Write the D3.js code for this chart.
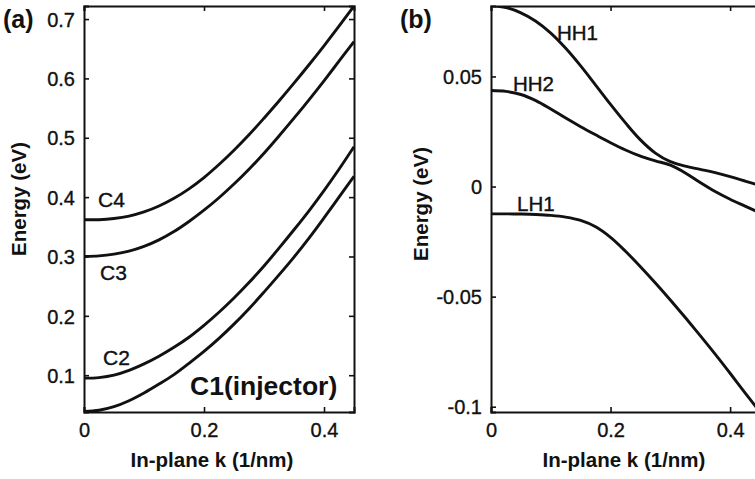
<!DOCTYPE html>
<html><head><meta charset="utf-8">
<script src="https://cdn.jsdelivr.net/npm/d3@7"></script>
<style>body{margin:0;background:#fff}svg{display:block}text{font-family:"Liberation Sans",Arial,sans-serif;fill:#111}</style>
</head><body>
<svg id="c" width="755" height="479"></svg>
<script>
const k = [0,0.025,0.05,0.075,0.1,0.125,0.15,0.175,0.2,0.225,0.25,0.275,0.3,0.325,0.35,0.375,0.4,0.425,0.45];
// Panel (a): conduction subbands (eV)
const C1 = [0.039,0.041,0.047,0.057,0.070,0.085,0.101,0.120,0.140,0.162,0.186,0.212,0.240,0.269,0.299,0.331,0.365,0.400,0.435];
const C2 = [0.095,0.096,0.100,0.108,0.119,0.132,0.147,0.164,0.184,0.206,0.230,0.256,0.284,0.314,0.345,0.377,0.411,0.447,0.485];
const C3 = [0.300,0.301,0.304,0.309,0.317,0.328,0.342,0.359,0.378,0.399,0.422,0.447,0.474,0.503,0.533,0.564,0.596,0.629,0.662];
const C4 = [0.362,0.362,0.364,0.368,0.375,0.385,0.398,0.414,0.433,0.455,0.479,0.505,0.533,0.562,0.592,0.623,0.655,0.688,0.722];
// Panel (b): valence subbands (eV)
const HH1 = [0.0822,0.0813,0.0789,0.0751,0.0697,0.0628,0.0548,0.0461,0.0373,0.0289,0.0212,0.0152,0.0113,0.0093,0.0078,0.0063,0.0045,0.0025,0.0004];
const HH2 = [0.0436,0.0432,0.0418,0.0390,0.0352,0.0311,0.0272,0.0235,0.0199,0.0166,0.0138,0.0117,0.0097,0.0062,0.0018,-0.0023,-0.0058,-0.0089,-0.0120];
const LH1 = [-0.0124,-0.0124,-0.0125,-0.0127,-0.0131,-0.0139,-0.0154,-0.0183,-0.0231,-0.0294,-0.0364,-0.0438,-0.0515,-0.0595,-0.0677,-0.0761,-0.0848,-0.0937,-0.1024];

const xTicks = [0,0.2,0.4];
const yTicksA = [0.1,0.2,0.3,0.4,0.5,0.6,0.7];
const yTicksB = [-0.1,-0.05,0,0.05];
const xLabel = "In-plane k (1/nm)";
const yLabel = "Energy (eV)";

const svg = d3.select("#c");

function panel(opt){
  const x = d3.scaleLinear().domain([0,0.45]).range([opt.x0, opt.x1]);
  const y = d3.scaleLinear().domain(opt.yd).range([opt.y1, opt.y0]);
  const g = svg.append("g");
  const id = "clip"+opt.name;
  svg.append("clipPath").attr("id",id).append("rect")
    .attr("x",opt.x0).attr("y",opt.y0).attr("width",opt.x1-opt.x0).attr("height",opt.y1-opt.y0);
  const line = d3.line().x((d,i)=>x(k[i])).y(d=>y(d)).curve(d3.curveCatmullRom.alpha(0.5));
  opt.series.forEach(s=>{
    g.append("path").datum(s).attr("d",line).attr("fill","none")
      .attr("stroke","#111").attr("stroke-width",2.9).attr("stroke-linejoin","round").attr("clip-path",`url(#${id})`);
  });
  const ax = [
    [d3.axisBottom(x).tickValues(xTicks).tickSize(-5).tickFormat(d3.format("")), `translate(0,${opt.y1})`],
    [d3.axisTop(x).tickValues(xTicks).tickSize(-5).tickFormat(""), `translate(0,${opt.y0})`],
    [d3.axisLeft(y).tickValues(opt.yt).tickSize(-5).tickFormat(opt.fmt), `translate(${opt.x0},0)`],
    [d3.axisRight(y).tickValues(opt.yt).tickSize(-5).tickFormat(""), `translate(${opt.x1},0)`]
  ];
  ax.forEach(([a,t],j)=>{
    const gg = g.append("g").attr("transform",t).call(a);
    gg.select(".domain").attr("stroke","#111").attr("stroke-width",2);
    gg.selectAll(".tick line").attr("stroke","#111").attr("stroke-width",1.6);
    gg.selectAll("text").attr("font-size",20).attr("fill","#111").attr("stroke","#111").attr("stroke-width",0.35)
      .style("font-family",'"Liberation Sans",Arial,sans-serif');
    if(j===0) gg.selectAll("text").attr("dy",null).attr("y",25);
    if(j===2) gg.selectAll("text").attr("x",-9).attr("dy","0.36em");
  });
  g.append("text").attr("x",opt.xlx).attr("y",467)
    .attr("text-anchor","middle").attr("font-size",20.5).attr("font-weight","bold").text(xLabel);
  g.append("text").attr("transform",`translate(${opt.ylx},${opt.yly}) rotate(-90)`)
    .attr("text-anchor","middle").attr("font-size",20.5).attr("font-weight","bold").text(yLabel);
  g.append("text").attr("x",opt.tx).attr("y",28).attr("font-size",25).attr("font-weight","bold").text(`(${opt.name})`);
  opt.labels.forEach(l=>{
    const t = g.append("text").attr("x",l[1]).attr("y",l[2]).attr("font-size",l[3]).attr("font-weight",l[4]||"normal").text(l[0]);
    if(!l[4]) t.attr("stroke","#111").attr("stroke-width",0.4);
  });
}

panel({name:"a", x0:84, x1:354, y0:6, y1:412, yd:[0.038,0.722], yt:yTicksA,
  fmt:d3.format(".1f"), series:[C1,C2,C3,C4], ylx:26, yly:199, tx:3, xlx:212,
  labels:[["C4",98,207,21],["C3",100,280,21],["C2",103,365,21],["C1(injector)",190,395,26.5,"bold"]]});
panel({name:"b", x0:491, x1:760, y0:6, y1:412, yd:[-0.1024,0.082], yt:yTicksB,
  fmt:d=> d===0?"0":(d===-0.1?"-0.1":d3.format(".2f")(d).replace("−","-")), series:[HH1,HH2,LH1], ylx:428, yly:204, tx:400, xlx:624,
  labels:[["HH1",557,40,20.5],["HH2",513,91,20.5],["LH1",517,211,20.5]]});
</script>
</body></html>
